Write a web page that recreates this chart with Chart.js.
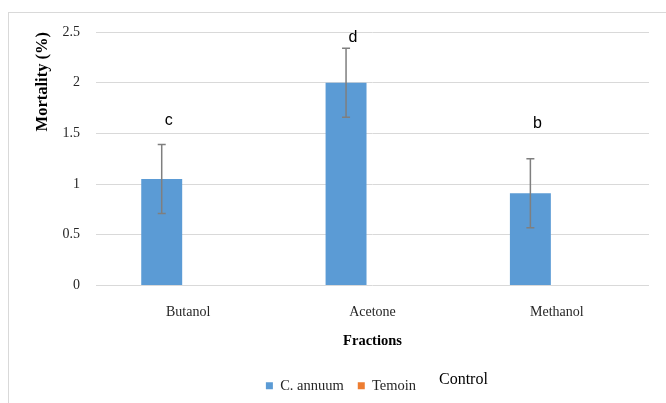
<!DOCTYPE html>
<html>
<head>
<meta charset="utf-8">
<script src="https://cdn.jsdelivr.net/npm/chart.js@4.4.1/dist/chart.umd.min.js"></script>
<style>
  body { margin: 0; background: #fff; overflow: hidden; }
  #wrap { position: relative; width: 666px; height: 403px; }
  #frame { position: absolute; left: 8px; top: 12px; width: 700px; height: 450px;
           border-top: 1px solid #d9d9d9; border-left: 1px solid #d9d9d9; }
  #chart { position: absolute; left: 0; top: 0; }
</style>
</head>
<body>
<div id="wrap">
  <div id="frame"></div>
  <canvas id="chart" width="666" height="403"></canvas>
</div>
<script>
const fractions = ['Butanol', 'Acetone', 'Methanol'];
const mortality = [1.05, 2.0, 0.91];
const mortalityErr = [0.34, 0.34, 0.34];
const temoin = [0, 0, 0];
const letters = ['c', 'd', 'b'];
const letterY = [1.63, 2.44, 1.60];
const yTicks = [0, 0.5, 1, 1.5, 2, 2.5];

const serif = '"Liberation Serif", "Times New Roman", serif';
const sans = '"Liberation Sans", Arial, sans-serif';

// error bars and significance letters over the C. annuum bars
const errorBars = {
    id: 'errorBars',
    afterDatasetsDraw(chart) {
        const ctx = chart.ctx;
        const y = chart.scales.y;
        const meta = chart.getDatasetMeta(0);
        ctx.save();
        ctx.strokeStyle = '#7f7f7f';
        ctx.lineWidth = 1.5;
        meta.data.forEach((bar, i) => {
            const top = y.getPixelForValue(mortality[i] + mortalityErr[i]);
            const bot = y.getPixelForValue(mortality[i] - mortalityErr[i]);
            ctx.beginPath();
            ctx.moveTo(bar.x, top); ctx.lineTo(bar.x, bot);
            ctx.moveTo(bar.x - 4, top); ctx.lineTo(bar.x + 4, top);
            ctx.moveTo(bar.x - 4, bot); ctx.lineTo(bar.x + 4, bot);
            ctx.stroke();
        });
        ctx.fillStyle = '#000';
        ctx.font = '16px ' + sans;
        ctx.textAlign = 'center';
        ctx.textBaseline = 'middle';
        meta.data.forEach((bar, i) => {
            ctx.fillText(letters[i], bar.x + 7, y.getPixelForValue(letterY[i]));
        });
        ctx.restore();
    },
    afterDraw(chart) {
        // free text box from the original figure
        const ctx = chart.ctx;
        ctx.save();
        ctx.fillStyle = '#000';
        ctx.font = '16px ' + serif;
        ctx.textAlign = 'left';
        ctx.textBaseline = 'middle';
        ctx.fillText('Control', 439, 380);
        ctx.restore();
    }
};

new Chart(document.getElementById('chart'), {
    type: 'bar',
    data: {
        labels: fractions,
        datasets: [
            {
                label: 'C. annuum',
                data: mortality,
                backgroundColor: '#5b9bd5',
                borderWidth: 0,
                categoryPercentage: 0.574,
                barPercentage: 0.774
            },
            {
                label: 'Temoin',
                data: temoin,
                backgroundColor: '#ed7d31',
                borderWidth: 0,
                categoryPercentage: 0.574,
                barPercentage: 0.774
            }
        ]
    },
    options: {
        responsive: false,
        animation: false,
        layout: { padding: { left: 33, right: 17, top: 32, bottom: 0 } },
        scales: {
            x: {
                grid: { display: false },
                border: { display: false },
                ticks: { padding: 10, color: '#262626', font: { family: serif, size: 14 } },
                title: {
                    display: true, text: 'Fractions', color: '#000',
                    font: { family: serif, size: 14.5, weight: 'bold' },
                    padding: { top: 0, bottom: 15 }
                },
                afterFit: s => { s.height = 79; }
            },
            y: {
                min: 0, max: 2.5,
                afterBuildTicks: s => { s.ticks = yTicks.map(v => ({ value: v })); },
                grid: { color: '#d9d9d9', lineWidth: 1, drawTicks: false },
                border: { display: false },
                ticks: {
                    padding: 16, color: '#262626', font: { family: serif, size: 14 },
                    callback: v => String(v)
                },
                title: {
                    display: true, text: 'Mortality (%)', color: '#000', align: 'end',
                    font: { family: serif, size: 16.5, weight: 'bold' },
                    padding: 0
                },
                afterFit: s => { s.width = 63; }
            }
        },
        plugins: {
            legend: {
                position: 'bottom',
                labels: {
                    boxWidth: 7, boxHeight: 7, padding: 14, color: '#262626',
                    font: { family: serif, size: 14.5 }
                }
            },
            tooltip: { enabled: false }
        }
    },
    plugins: [errorBars]
});
</script>
</body>
</html>
